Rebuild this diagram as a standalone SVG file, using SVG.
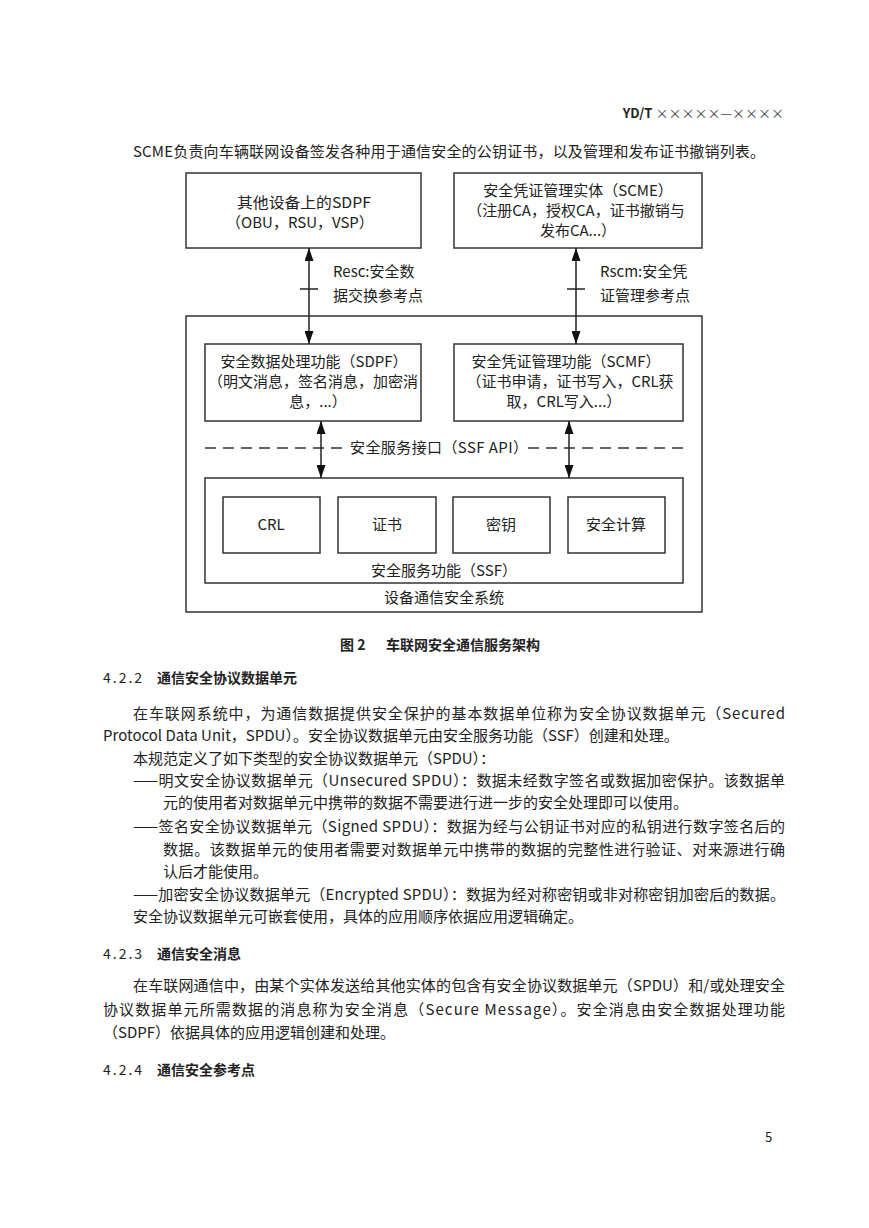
<svg xmlns="http://www.w3.org/2000/svg" width="869" height="1228" viewBox="0 0 869 1228">
<defs>
<style>
text{font-family:"Noto Sans CJK SC","Liberation Sans",sans-serif;fill:#222;font-size:15px}
.c{text-anchor:middle}
.b{font-weight:bold}
.num{font-size:14px;letter-spacing:2px}
.box{fill:none;stroke:#333;stroke-width:1.5}
.ln{fill:none;stroke:#222;stroke-width:1.5}
.dash{fill:none;stroke:#333;stroke-width:1.5;stroke-dasharray:11 7}
</style>
<marker id="ah" viewBox="0 0 13 9" refX="13" refY="4.5" markerWidth="13" markerHeight="9" orient="auto-start-reverse" markerUnits="userSpaceOnUse">
<path d="M0,0 L13,4.5 L0,9 z" fill="#111"/>
</marker>
</defs>
<rect width="869" height="1228" fill="#fff"/>

<g id="page-header">
<text x="784" y="118" style="text-anchor:end;font-size:13px"><tspan class="b">YD/T</tspan> <tspan style="fill:#444">×××××—××××</tspan></text>
<text x="133" y="157" textLength="632" lengthAdjust="spacing">SCME负责向车辆联网设备签发各种用于通信安全的公钥证书，以及管理和发布证书撤销列表。</text>
</g>

<g id="node-other-sdpf">
<rect class="box" x="186" y="173" width="235" height="75"/>
<text class="c" x="304" y="208" textLength="134" lengthAdjust="spacingAndGlyphs">其他设备上的SDPF</text>
<text class="c" x="300" y="228">（OBU，RSU，VSP）</text>
</g>
<g id="node-scme">
<rect class="box" x="454" y="173" width="248" height="75"/>
<text class="c" x="578" y="196">安全凭证管理实体（SCME）</text>
<text class="c" x="576" y="216">（注册CA，授权CA，证书撤销与</text>
<text class="c" x="578" y="236">发布CA...）</text>
</g>
<g id="node-system">
<rect class="box" x="186" y="316" width="516" height="296"/>
<text class="c" x="444" y="603">设备通信安全系统</text>
</g>
<g id="node-sdpf">
<rect class="box" x="205" y="344" width="216" height="77"/>
<text class="c" x="314" y="367">安全数据处理功能（SDPF）</text>
<text class="c" x="313" y="387">（明文消息，签名消息，加密消</text>
<text class="c" x="318" y="407">息，...）</text>
</g>
<g id="node-scmf">
<rect class="box" x="454" y="344" width="229" height="77"/>
<text class="c" x="566" y="367">安全凭证管理功能（SCMF）</text>
<text class="c" x="570" y="387">（证书申请，证书写入，CRL获</text>
<text class="c" x="564" y="407">取，CRL写入...）</text>
</g>
<g id="node-api">
<line class="dash" x1="205" y1="448" x2="344" y2="448"/>
<line class="dash" x1="528" y1="448" x2="683" y2="448"/>
<text x="350" y="453" textLength="178" lengthAdjust="spacing">安全服务接口（SSF API）</text>
</g>
<g id="node-ssf">
<rect class="box" x="205" y="478" width="478" height="105"/>
<text class="c" x="444" y="576">安全服务功能（SSF）</text>
</g>
<g id="node-crl">
<rect class="box" x="223" y="497" width="97" height="56"/>
<text class="c" x="271" y="530">CRL</text>
</g>
<g id="node-cert">
<rect class="box" x="338" y="497" width="98" height="56"/>
<text class="c" x="387" y="530">证书</text>
</g>
<g id="node-key">
<rect class="box" x="453" y="497" width="97" height="56"/>
<text class="c" x="501" y="530">密钥</text>
</g>
<g id="node-compute">
<rect class="box" x="568" y="497" width="97" height="56"/>
<text class="c" x="616" y="530">安全计算</text>
</g>

<g id="connectors">
<line class="ln" x1="309" y1="248" x2="309" y2="344" marker-start="url(#ah)" marker-end="url(#ah)"/>
<line class="ln" x1="300" y1="289" x2="318" y2="289"/>
<text x="333" y="277">Resc:安全数</text>
<text x="333" y="301">据交换参考点</text>
<line class="ln" x1="576" y1="248" x2="576" y2="344" marker-start="url(#ah)" marker-end="url(#ah)"/>
<line class="ln" x1="567" y1="289" x2="585" y2="289"/>
<text x="600" y="277">Rscm:安全凭</text>
<text x="600" y="301">证管理参考点</text>
<line class="ln" x1="321" y1="421" x2="321" y2="478" marker-start="url(#ah)" marker-end="url(#ah)"/>
<line class="ln" x1="569" y1="421" x2="569" y2="478" marker-start="url(#ah)" marker-end="url(#ah)"/>
</g>

<g id="body-text">
<text x="340" y="650" class="b" style="font-size:14px">图 2</text>
<text x="386" y="650" class="b" style="font-size:14px">车联网安全通信服务架构</text>
<text x="103" y="683" class="num">4.2.2</text>
<text x="157" y="683" class="b" style="font-size:14px">通信安全协议数据单元</text>
<text x="133" y="719" textLength="652" lengthAdjust="spacing">在车联网系统中，为通信数据提供安全保护的基本数据单位称为安全协议数据单元（Secured</text>
<text x="103" y="741">Protocol Data Unit，SPDU）。安全协议数据单元由安全服务功能（SSF）创建和处理。</text>
<text x="133" y="764">本规范定义了如下类型的安全协议数据单元（SPDU）：</text>
<text x="133" y="786" textLength="652" lengthAdjust="spacing">——明文安全协议数据单元（Unsecured SPDU）：数据未经数字签名或数据加密保护。该数据单</text>
<text x="163" y="808">元的使用者对数据单元中携带的数据不需要进行进一步的安全处理即可以使用。</text>
<text x="133" y="832" textLength="652" lengthAdjust="spacing">——签名安全协议数据单元（Signed SPDU）：数据为经与公钥证书对应的私钥进行数字签名后的</text>
<text x="163" y="855" textLength="622" lengthAdjust="spacing">数据。该数据单元的使用者需要对数据单元中携带的数据的完整性进行验证、对来源进行确</text>
<text x="163" y="877">认后才能使用。</text>
<text x="133" y="900" textLength="652" lengthAdjust="spacing">——加密安全协议数据单元（Encrypted SPDU）：数据为经对称密钥或非对称密钥加密后的数据。</text>
<text x="133" y="922">安全协议数据单元可嵌套使用，具体的应用顺序依据应用逻辑确定。</text>
<text x="103" y="959" class="num">4.2.3</text>
<text x="157" y="959" class="b" style="font-size:14px">通信安全消息</text>
<text x="133" y="991" textLength="652" lengthAdjust="spacing">在车联网通信中，由某个实体发送给其他实体的包含有安全协议数据单元（SPDU）和/或处理安全</text>
<text x="103" y="1015" textLength="682" lengthAdjust="spacing">协议数据单元所需数据的消息称为安全消息（Secure Message）。安全消息由安全数据处理功能</text>
<text x="103" y="1038">（SDPF）依据具体的应用逻辑创建和处理。</text>
<text x="103" y="1075" class="num">4.2.4</text>
<text x="157" y="1075" class="b" style="font-size:14px">通信安全参考点</text>
<text x="765" y="1142" style="font-size:13px">5</text>
</g>
</svg>
